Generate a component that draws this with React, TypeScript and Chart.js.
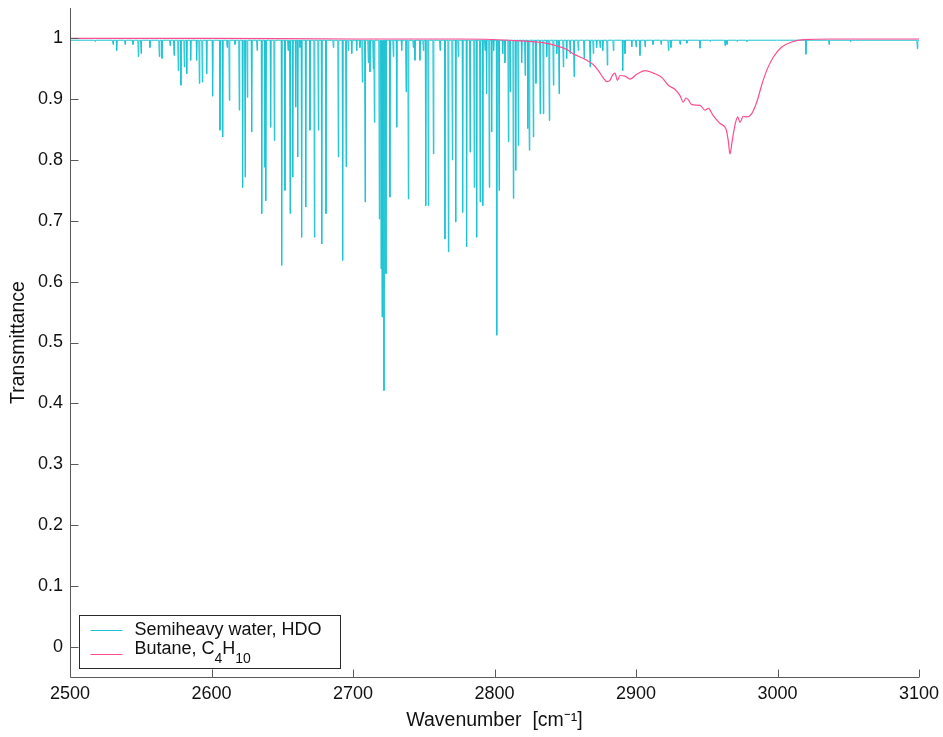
import React, { useEffect, useRef } from "react";
import { Chart, registerables } from "chart.js";

Chart.register(...registerables);

// ---------- data ----------
const seriesLabels = ["Semiheavy water, HDO", "Butane, C₄H₁₀"];
const seriesColors = ["#1fc4d4", "#ff4d8f"];

const xTicks = [2500, 2600, 2700, 2800, 2900, 3000, 3100];
const yTicks = [0, 0.1, 0.2, 0.3, 0.4, 0.5, 0.6, 0.7, 0.8, 0.9, 1];
const yTickLabels = ["0", "0.1", "0.2", "0.3", "0.4", "0.5", "0.6", "0.7", "0.8", "0.9", "1"];

// HDO absorption lines: centre wavenumber and transmittance at the line minimum
const hdoLineCenters = [
  2517.7, 2530.4, 2533.0, 2538.9, 2544.5, 2548.3, 2550.2, 2556.5, 2563.1, 2565.0,
  2570.7, 2573.5, 2576.5, 2578.4, 2580.8, 2582.5, 2585.3, 2589.5, 2591.4, 2593.5,
  2596.6, 2600.8, 2606.0, 2607.9, 2611.0, 2612.6, 2616.6, 2619.6, 2622.0, 2623.7,
  2625.3, 2628.4, 2632.2, 2635.5, 2637.8, 2638.5, 2641.8, 2644.4, 2649.6, 2651.9,
  2654.1, 2655.5, 2657.4, 2659.5, 2660.9, 2662.5, 2663.7, 2666.6, 2669.6, 2672.7,
  2675.5, 2677.9, 2680.9, 2686.1, 2689.6, 2692.7, 2695.1, 2696.7, 2699.1, 2702.6,
  2704.9, 2706.6, 2708.5, 2710.8, 2712.0, 2714.3, 2715.1, 2718.6, 2719.8, 2720.5,
  2721.9, 2723.3, 2726.1, 2728.5, 2730.9, 2734.4, 2737.5, 2739.1, 2742.6, 2743.8,
  2747.3, 2749.7, 2751.4, 2753.2, 2756.8, 2761.5, 2765.0, 2767.4, 2770.2, 2772.6,
  2774.4, 2777.5, 2780.3, 2782.7, 2785.7, 2787.4, 2789.8, 2791.7, 2793.3, 2794.4,
  2796.3, 2798.0, 2799.4, 2801.6, 2803.2, 2805.8, 2807.4, 2809.8, 2811.0, 2813.3,
  2815.0, 2816.8, 2819.2, 2821.6, 2823.5, 2824.6, 2827.4, 2829.3, 2832.2, 2834.5,
  2836.9, 2838.7, 2841.6, 2844.0, 2845.6, 2848.6, 2851.0, 2853.4, 2856.2, 2859.2,
  2863.3, 2867.5, 2869.8, 2872.2, 2874.6, 2876.5, 2879.7, 2884.0, 2890.6, 2892.2,
  2897.0, 2900.0, 2902.8, 2906.4, 2912.0, 2917.7, 2922.9, 2924.7, 2931.1, 2936.0,
  2945.2, 2952.3, 2962.9, 2964.3, 2971.4, 2978.4, 2999.6, 3020.1, 3036.4, 3051.7,
  3098.8,
];
const hdoLineMinima = [
  0.995, 0.99, 0.98, 0.99, 0.99, 0.97, 0.975, 0.985, 0.97, 0.967,
  0.988, 0.972, 0.947, 0.923, 0.953, 0.942, 0.964, 0.964, 0.926, 0.928,
  0.942, 0.905, 0.849, 0.838, 0.985, 0.898, 0.99, 0.882, 0.755, 0.772,
  0.903, 0.846, 0.98, 0.712, 0.788, 0.733, 0.854, 0.832, 0.627, 0.75,
  0.98, 0.712, 0.772, 0.887, 0.805, 0.985, 0.673, 0.723, 0.849, 0.673,
  0.849, 0.662, 0.712, 0.985, 0.805, 0.635, 0.789, 0.98, 0.975, 0.98,
  0.985, 0.928, 0.731, 0.96, 0.945, 0.95, 0.862, 0.703, 0.621, 0.542,
  0.421, 0.613, 0.739, 0.97, 0.854, 0.98, 0.912, 0.736, 0.985, 0.964,
  0.964, 0.98, 0.725, 0.725, 0.81, 0.98, 0.67, 0.649, 0.8, 0.698,
  0.97, 0.714, 0.657, 0.813, 0.755, 0.673, 0.731, 0.725, 0.98, 0.909,
  0.755, 0.846, 0.98, 0.512, 0.75, 0.975, 0.96, 0.83, 0.912, 0.737,
  0.783, 0.824, 0.96, 0.939, 0.852, 0.816, 0.838, 0.926, 0.876, 0.876,
  0.97, 0.865, 0.923, 0.975, 0.909, 0.953, 0.967, 0.975, 0.937, 0.98,
  0.967, 0.953, 0.975, 0.985, 0.985, 0.98, 0.956, 0.98, 0.947, 0.975,
  0.986, 0.986, 0.972, 0.986, 0.99, 0.99, 0.98, 0.985, 0.99, 0.992,
  0.984, 0.995, 0.988, 0.99, 0.995, 0.995, 0.997, 0.974, 0.99, 0.995,
  0.983,
];
const hdoBaseline = 0.997;
const hdoLineHalfWidth = 0.35;

// Butane broadband absorption
const butaneWavenumbers = [
  2500, 2600, 2700, 2775.6, 2810.9, 2834.3, 2846.3, 2851.0, 2855.5, 2865.2,
  2869.8, 2873.4, 2876.9, 2879.5, 2881.6, 2883.5, 2885.2, 2886.8, 2888.7, 2892.2,
  2895.8, 2900.5, 2906.4, 2912.2, 2918.2, 2922.8, 2927.6, 2931.1, 2933.4, 2935.3,
  2937.0, 2939.4, 2945.2, 2948.8, 2951.1, 2954.6, 2959.4, 2963.6, 2965.2, 2966.4,
  2968.0, 2969.9, 2971.9, 2973.5, 2975.8, 2978.2, 2981.7, 2985.3, 2988.8, 2992.3,
  2997.0, 3003.0, 3010.0, 3018.2, 3039.2, 3100,
];
const butaneTransmittance = [
  1.0, 1.0, 0.999, 0.999, 0.997, 0.993, 0.986, 0.982, 0.975, 0.964,
  0.957, 0.947, 0.935, 0.929, 0.931, 0.94, 0.943, 0.931, 0.939, 0.938,
  0.933, 0.941, 0.947, 0.943, 0.936, 0.923, 0.916, 0.906, 0.895, 0.902,
  0.899, 0.891, 0.89, 0.882, 0.885, 0.873, 0.86, 0.851, 0.832, 0.81,
  0.832, 0.857, 0.871, 0.862, 0.872, 0.871, 0.876, 0.895, 0.923, 0.947,
  0.969, 0.986, 0.994, 0.998, 0.999, 0.999,
];

// ---------- helpers ----------
function buildHdoPoints() {
  const pts: { x: number; y: number }[] = [
    { x: xTicks[0], y: hdoBaseline },
    { x: xTicks[xTicks.length - 1], y: hdoBaseline },
  ];
  hdoLineCenters.forEach((c, i) => {
    pts.push({ x: c - hdoLineHalfWidth, y: hdoBaseline });
    pts.push({ x: c, y: hdoLineMinima[i] });
    pts.push({ x: c + hdoLineHalfWidth, y: hdoBaseline });
  });
  pts.sort((a, b) => a.x - b.x);
  return pts;
}

const FONT = "'Liberation Sans', Arial, Helvetica, sans-serif";

const axesPlugin = {
  id: "inwardAxes",
  afterDatasetsDraw(chart: any) {
    const { ctx, chartArea } = chart;
    const { left, right, top, bottom } = chartArea;
    const xs = chart.scales.x;
    const ys = chart.scales.y;
    ctx.save();
    ctx.strokeStyle = "#5a5a5a";
    ctx.lineWidth = 1;
    ctx.beginPath();
    const L = Math.round(left) + 0.5;
    const B = Math.round(bottom) + 0.5;
    ctx.moveTo(L, top);
    ctx.lineTo(L, B);
    ctx.lineTo(right, B);
    xTicks.forEach((v) => {
      const px = Math.round(xs.getPixelForValue(v)) + 0.5;
      ctx.moveTo(px, B);
      ctx.lineTo(px, B - 8);
    });
    yTicks.forEach((v) => {
      const py = Math.round(ys.getPixelForValue(v)) + 0.5;
      ctx.moveTo(L, py);
      ctx.lineTo(L + 8, py);
    });
    ctx.stroke();
    ctx.restore();
  },
};

const subMap: Record<string, string> = {
  "₀": "0", "₁": "1", "₂": "2", "₃": "3", "₄": "4",
  "₅": "5", "₆": "6", "₇": "7", "₈": "8", "₉": "9",
};

function drawRichText(ctx: CanvasRenderingContext2D, text: string, x: number, y: number) {
  let cx = x;
  let buf = "";
  let bufSub = false;
  const flush = () => {
    if (!buf) return;
    ctx.font = bufSub ? `14px ${FONT}` : `18px ${FONT}`;
    ctx.fillText(buf, cx, bufSub ? y + 9 : y);
    cx += ctx.measureText(buf).width;
    buf = "";
  };
  for (const ch of Array.from(text)) {
    const isSub = ch in subMap;
    if (isSub !== bufSub) {
      flush();
      bufSub = isSub;
    }
    buf += isSub ? subMap[ch] : ch;
  }
  flush();
}

const legendPlugin = {
  id: "boxLegend",
  afterDraw(chart: any) {
    const { ctx, chartArea } = chart;
    const x0 = Math.round(chartArea.left) + 9.5;
    const y0 = Math.round(chartArea.bottom) - 62 + 0.5;
    const w = 261;
    const h = 53;
    ctx.save();
    ctx.fillStyle = "#ffffff";
    ctx.fillRect(x0, y0, w, h);
    ctx.strokeStyle = "#2a2a2a";
    ctx.lineWidth = 1;
    ctx.strokeRect(x0, y0, w, h);
    const lineY = [14, 38];
    const textY = [19.5, 38];
    chart.data.datasets.forEach((ds: any, i: number) => {
      ctx.strokeStyle = ds.borderColor;
      ctx.lineWidth = 1;
      ctx.beginPath();
      ctx.moveTo(x0 + 11, Math.round(y0 + lineY[i]) + 0.5);
      ctx.lineTo(x0 + 43, Math.round(y0 + lineY[i]) + 0.5);
      ctx.stroke();
      ctx.fillStyle = "#111111";
      ctx.textBaseline = "alphabetic";
      ctx.textAlign = "left";
      drawRichText(ctx, ds.label, x0 + 55, y0 + textY[i]);
    });
    ctx.restore();
  },
};

export default function App() {
  const canvasRef = useRef<HTMLCanvasElement | null>(null);

  useEffect(() => {
    if (!canvasRef.current) return;
    Chart.defaults.font.family = FONT;
    const chart = new Chart(canvasRef.current, {
      type: "line",
      data: {
        datasets: [
          {
            label: seriesLabels[0],
            data: buildHdoPoints(),
            borderColor: seriesColors[0],
            borderWidth: 1,
            pointRadius: 0,
            tension: 0,
            order: 1,
          },
          {
            label: seriesLabels[1],
            data: butaneWavenumbers.map((x, i) => ({ x, y: butaneTransmittance[i] })),
            borderColor: seriesColors[1],
            borderWidth: 1.2,
            pointRadius: 0,
            cubicInterpolationMode: "monotone",
            order: 0,
          },
        ],
      },
      options: {
        animation: false,
        responsive: true,
        maintainAspectRatio: false,
        parsing: false,
        normalized: true,
        layout: { padding: { top: 8, right: 24, left: 0, bottom: 0 } },
        plugins: {
          legend: { display: false },
          tooltip: { enabled: false },
        },
        events: [],
        scales: {
          x: {
            type: "linear",
            min: 2500,
            max: 3100,
            grid: { display: false, drawTicks: false },
            border: { display: false },
            afterBuildTicks: (s: any) => {
              s.ticks = xTicks.map((v) => ({ value: v }));
            },
            afterFit: (s: any) => {
              s.height = 60;
              s.paddingLeft = 0;
              s.paddingRight = 0;
            },
            ticks: {
              color: "#111",
              font: { size: 18 },
              padding: 6,
              maxRotation: 0,
              autoSkip: false,
              callback: (v: any) => String(v),
            },
            title: {
              display: true,
              text: "Wavenumber  [cm⁻¹]",
              color: "#111",
              font: { size: 19.5 },
              padding: { top: 0, bottom: 5 },
            },
          },
          y: {
            type: "linear",
            min: -0.05,
            max: 1.05,
            grid: { display: false, drawTicks: false },
            border: { display: false },
            afterBuildTicks: (s: any) => {
              s.ticks = yTicks.map((v) => ({ value: v }));
            },
            afterFit: (s: any) => {
              s.width = 70;
              s.paddingTop = 0;
              s.paddingBottom = 0;
            },
            ticks: {
              color: "#111",
              font: { size: 18 },
              padding: 7,
              autoSkip: false,
              callback: (v: any) => {
                const idx = yTicks.findIndex((t) => Math.abs(t - Number(v)) < 1e-9);
                return idx >= 0 ? yTickLabels[idx] : "";
              },
            },
            title: {
              display: true,
              text: "Transmittance",
              color: "#111",
              font: { size: 19.5 },
              padding: { top: 7, bottom: 0 },
            },
          },
        },
      },
      plugins: [axesPlugin, legendPlugin],
    } as any);
    return () => chart.destroy();
  }, []);

  return (
    <div style={{ position: "fixed", left: 0, top: 0, width: 943, height: 737, background: "#fff" }}>
      <canvas ref={canvasRef} />
    </div>
  );
}
